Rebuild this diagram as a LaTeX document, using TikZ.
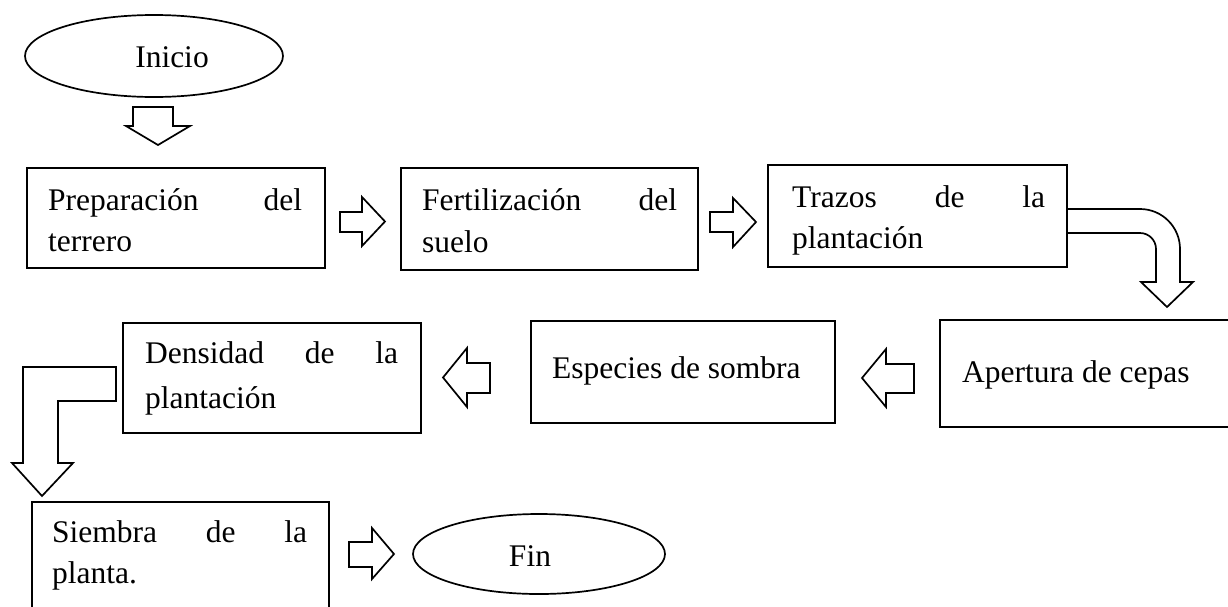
\documentclass[tikz,border=0pt]{standalone}
\usepackage{fontspec}
\setmainfont{Liberation Serif}
\usetikzlibrary{shapes.geometric}
\begin{document}
\begin{tikzpicture}[x=1pt,y=-1pt,
  box/.style={draw, line width=1.8pt, rectangle, inner sep=0pt},
  oval/.style={draw, line width=1.7pt, ellipse, inner sep=0pt},
  blk/.style={draw, line width=1.7pt, line join=miter},
  txt/.style={inner sep=0pt, anchor=base west, font=\fontsize{31.5}{41}\selectfont},
  ctxt/.style={inner sep=0pt, anchor=base, font=\fontsize{31.5}{41}\selectfont}]
\useasboundingbox (0,0) rectangle (1228,606);
\clip (0,0) rectangle (1228,606);
% ovals
\node[oval, minimum width=258pt, minimum height=82pt] (ini) at (154,56) {};
\node[ctxt] (tini) at (172,67) {Inicio};
\node[oval, minimum width=252pt, minimum height=80pt] (fin) at (539,554) {};
\node[ctxt] (tfin) at (530,566) {Fin};
% boxes
\node[box, minimum width=298pt, minimum height=100pt] (b1) at (176,218) {};
\node[box, minimum width=297pt, minimum height=102pt] (b2) at (549.5,219) {};
\node[box, minimum width=299pt, minimum height=102pt] (b3) at (917.5,216) {};
\node[box, minimum width=300pt, minimum height=107pt] (b4) at (1090,373.5) {};
\node[box, minimum width=304pt, minimum height=102pt] (b5) at (683,372) {};
\node[box, minimum width=298pt, minimum height=110pt] (b6) at (272,378) {};
\node[box, minimum width=297pt, minimum height=118pt] (b7) at (180.5,561) {};
% texts
\node[txt] (t1) at (48,210) {\parbox[t]{254pt}{\baselineskip=41pt Preparación\hfill del\\terrero}};
\node[txt] (t2) at (422,210) {\parbox[t]{255pt}{\baselineskip=42pt Fertilización\hfill del\\suelo}};
\node[txt] (t3) at (792,207) {\parbox[t]{253pt}{\baselineskip=41pt Trazos\hfill de\hfill la\\plantación}};
\node[txt] (t4) at (962,382) {Apertura de cepas};
\node[txt] (t5) at (552,378) {Especies de sombra};
\node[txt] (t6) at (145,363) {\parbox[t]{253pt}{\baselineskip=45pt Densidad\hfill de\hfill la\\plantación}};
\node[txt] (t7) at (52,542) {\parbox[t]{255pt}{\baselineskip=41pt Siembra\hfill de\hfill la\\planta.}};
% block arrows
\draw[blk] (133,107) -- (173,107) -- (173,126) -- (190,126) -- (158,145) -- (126,126) -- (133,126) -- cycle;
\draw[blk] (340,212) -- (362,212) -- (362,197) -- (385,221.5) -- (362,246) -- (362,232) -- (340,232) -- cycle;
\draw[blk] (710,212) -- (733,212) -- (733,198) -- (756,222) -- (733,247) -- (733,232) -- (710,232) -- cycle;
\draw[blk] (1067,209) -- (1140,209) arc[start angle=-90, end angle=0, radius=40] -- (1180,282) -- (1193,282) -- (1167,307) -- (1141,282) -- (1156,282) -- (1156,249) arc[start angle=0, end angle=-90, radius=16] -- (1067,233);
\draw[blk] (914,364) -- (886,364) -- (886,349) -- (862,378) -- (886,407) -- (886,393) -- (914,393) -- cycle;
\draw[blk] (490,363) -- (467,363) -- (467,348) -- (443,377.5) -- (467,407) -- (467,393) -- (490,393) -- cycle;
\draw[blk] (116,367) -- (23,367) -- (23,463) -- (12,463) -- (42,496) -- (73,463) -- (58,463) -- (58,401) -- (116,401) -- cycle;
\draw[blk] (349,542) -- (372,542) -- (372,528) -- (394,554) -- (372,579) -- (372,567) -- (349,567) -- cycle;
\end{tikzpicture}
\end{document}
